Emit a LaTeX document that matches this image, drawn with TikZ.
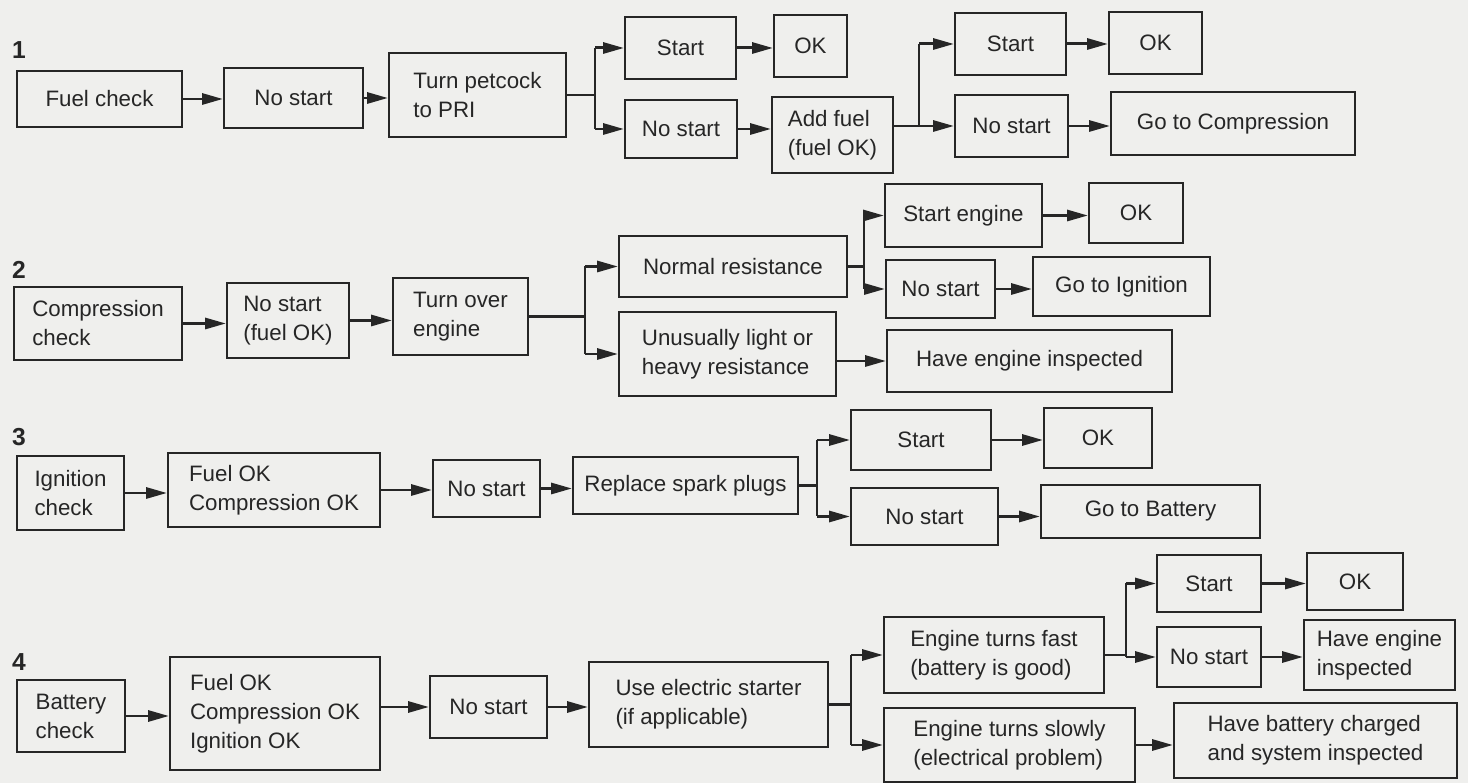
\documentclass[tikz,border=0pt]{standalone}
\usepackage{fontspec}
\setmainfont{Liberation Sans}
\usetikzlibrary{arrows.meta}

\definecolor{paper}{RGB}{239,239,237}
\definecolor{ink}{RGB}{38,38,38}

\tikzset{
    box/.style={draw=ink, line width=1.1pt, text=ink, align=left, inner sep=2pt,
        font=\fontsize{12.7}{16.5}\selectfont},
    wh/.style 2 args={minimum width=#1*0.02cm, minimum height=#2*0.02cm},
    arr/.style={->, draw=ink, line width=1.7pt},
    lnk/.style={draw=ink, line width=1.2pt},
    num/.style={text=ink, font=\fontsize{14}{16}\selectfont\bfseries}
}

\begin{document}
\begin{tikzpicture}[x=0.02cm, y=-0.02cm, >={Triangle[length=4.2mm,width=2.2mm]}]
    % Page
    \useasboundingbox (0,0) rectangle (1468,783);
    \fill[paper] (0,0) rectangle (1468,783);

    % 1 Fuel
    \node[num] (n1) at (19,50) {1};
    \node[box, wh={165}{56}] (fuel) at (99.5,99) {Fuel check};
    \node[box, wh={139}{60}] (nostartA) at (293.5,98) {No start};
    \node[box, wh={177}{84}] (petcock) at (477.5,95) {Turn petcock\\to PRI};
    \node[box, wh={111}{62}] (startA) at (680.5,48) {Start};
    \node[box, wh={112}{58}] (nostartB) at (681,129) {No start};
    \node[box, wh={73}{62}] (okA) at (810.5,46) {OK};
    \node[box, wh={121}{76}] (addfuel) at (832.5,135) {Add fuel\\(fuel OK)};
    \node[box, wh={111}{62}] (startB) at (1010.5,44) {Start};
    \node[box, wh={93}{62}] (okB) at (1155.5,43) {OK};
    \node[box, wh={113}{62}] (nostartC) at (1011.5,126) {No start};
    \node[box, wh={244}{63}] (gocomp) at (1233,123.5) {Go to Compression};
    \coordinate (jA) at (595,95);
    \coordinate (jB) at (919,126);

    \draw[arr] (fuel) -- (fuel -| nostartA.west);
    \draw[arr] (nostartA) -- (nostartA -| petcock.west);
    \draw[lnk] (petcock) -- (jA);
    \draw[lnk] (jA |- startA) -- (jA |- nostartB);
    \draw[arr] (jA |- startA) -- (startA);
    \draw[arr] (jA |- nostartB) -- (nostartB);
    \draw[arr] (startA) -- (startA -| okA.west);
    \draw[arr] (nostartB) -- (nostartB -| addfuel.west);
    \draw[lnk] (addfuel.east |- jB) -- (jB);
    \draw[lnk] (jB |- startB) -- (jB);
    \draw[arr] (jB |- startB) -- (startB);
    \draw[arr] (jB) -- (nostartC);
    \draw[arr] (startB) -- (startB -| okB.west);
    \draw[arr] (nostartC) -- (nostartC -| gocomp.west);

    % 2 Compression
    \node[num] (n2) at (19,270) {2};
    \node[box, wh={168}{73}] (comp) at (98,323.5) {Compression\\check};
    \node[box, wh={122}{75}] (nostartD) at (288,320.5) {No start\\(fuel OK)};
    \node[box, wh={135}{77}] (turnover) at (460.5,316.5) {Turn over\\engine};
    \node[box, wh={228}{61}] (normal) at (733,266.5) {Normal resistance};
    \node[box, wh={217}{84}] (unusual) at (727.5,354) {Unusually light or\\heavy resistance};
    \node[box, wh={157}{63}] (starteng) at (963.5,215.5) {Start engine};
    \node[box, wh={94}{60}] (okC) at (1136,213) {OK};
    \node[box, wh={109}{58}] (nostartE) at (940.5,289) {No start};
    \node[box, wh={177}{59}] (goign) at (1121.5,286.5) {Go to Ignition};
    \node[box, wh={285}{62}] (haveeng) at (1029.5,361) {Have engine inspected};
    \coordinate (jC) at (585,316.5);
    \coordinate (jD) at (864,266.5);

    \draw[arr] (comp) -- (comp -| nostartD.west);
    \draw[arr] (nostartD) -- (nostartD -| turnover.west);
    \draw[lnk] (turnover) -- (jC);
    \draw[lnk] (jC |- normal) -- (jC |- unusual);
    \draw[arr] (jC |- normal) -- (normal);
    \draw[arr] (jC |- unusual) -- (unusual);
    \draw[lnk] (normal) -- (jD);
    \draw[lnk] (jD |- starteng) -- (jD |- nostartE);
    \draw[arr] (jD |- starteng) -- (starteng);
    \draw[arr] (jD |- nostartE) -- (nostartE);
    \draw[arr] (starteng) -- (starteng -| okC.west);
    \draw[arr] (nostartE) -- (nostartE -| goign.west);
    \draw[arr] (haveeng -| unusual.east) -- (haveeng);

    % 3 Ignition
    \node[num] (n3) at (19,437) {3};
    \node[box, wh={107}{74}] (ign) at (70.5,493) {Ignition\\check};
    \node[box, wh={212}{74}] (fcoA) at (274,490) {Fuel OK\\Compression OK};
    \node[box, wh={107}{57}] (nostartF) at (486.5,488.5) {No start};
    \node[box, wh={225}{57}] (spark) at (685.5,485.5) {Replace spark plugs};
    \node[box, wh={140}{60}] (startC) at (921,440) {Start};
    \node[box, wh={108}{60}] (okD) at (1098,438) {OK};
    \node[box, wh={147}{57}] (nostartG) at (924.5,516.5) {No start};
    \node[box, wh={219}{53}] (gobat) at (1150.5,511.5) {Go to Battery};
    \coordinate (jE) at (817,485.5);

    \draw[arr] (ign) -- (ign -| fcoA.west);
    \draw[arr] (fcoA) -- (fcoA -| nostartF.west);
    \draw[arr] (nostartF) -- (nostartF -| spark.west);
    \draw[lnk] (spark) -- (jE);
    \draw[lnk] (jE |- startC) -- (jE |- nostartG);
    \draw[arr] (jE |- startC) -- (startC);
    \draw[arr] (jE |- nostartG) -- (nostartG);
    \draw[arr] (startC) -- (startC -| okD.west);
    \draw[arr] (nostartG) -- (nostartG -| gobat.west);

    % 4 Battery
    \node[num] (n4) at (19,662) {4};
    \node[box, wh={108}{72}] (bat) at (71,716) {Battery\\check};
    \node[box, wh={210}{113}] (fcoB) at (275,713.5) {Fuel OK\\Compression OK\\Ignition OK};
    \node[box, wh={117}{62}] (nostartH) at (488.5,707) {No start};
    \node[box, wh={239}{85}] (elec) at (708.5,704.5) {Use electric starter\\(if applicable)};
    \node[box, wh={220}{76}] (fast) at (994,655) {Engine turns fast\\(battery is good)};
    \node[box, wh={251}{74}] (slow) at (1009.5,745) {Engine turns slowly\\(electrical problem)};
    \node[box, wh={104}{57}] (startD) at (1209,583.5) {Start};
    \node[box, wh={96}{57}] (okE) at (1355,581.5) {OK};
    \node[box, wh={104}{60}] (nostartI) at (1209,657) {No start};
    \node[box, wh={151}{70}] (haveengB) at (1379.5,655) {Have engine\\inspected};
    \node[box, wh={283}{75}] (charge) at (1315.5,740.5) {Have battery charged\\and system inspected};
    \coordinate (jF) at (851,704.5);
    \coordinate (jG) at (1126,655);

    \draw[arr] (bat) -- (bat -| fcoB.west);
    \draw[arr] (nostartH -| fcoB.east) -- (nostartH);
    \draw[arr] (nostartH) -- (nostartH -| elec.west);
    \draw[lnk] (elec) -- (jF);
    \draw[lnk] (jF |- fast) -- (jF |- slow);
    \draw[arr] (jF |- fast) -- (fast);
    \draw[arr] (jF |- slow) -- (slow);
    \draw[lnk] (fast) -- (jG);
    \draw[lnk] (jG |- startD) -- (jG |- nostartI);
    \draw[arr] (jG |- startD) -- (startD);
    \draw[arr] (jG |- nostartI) -- (nostartI);
    \draw[arr] (startD) -- (startD -| okE.west);
    \draw[arr] (nostartI) -- (nostartI -| haveengB.west);
    \draw[arr] (slow) -- (slow -| charge.west);
\end{tikzpicture}
\end{document}
